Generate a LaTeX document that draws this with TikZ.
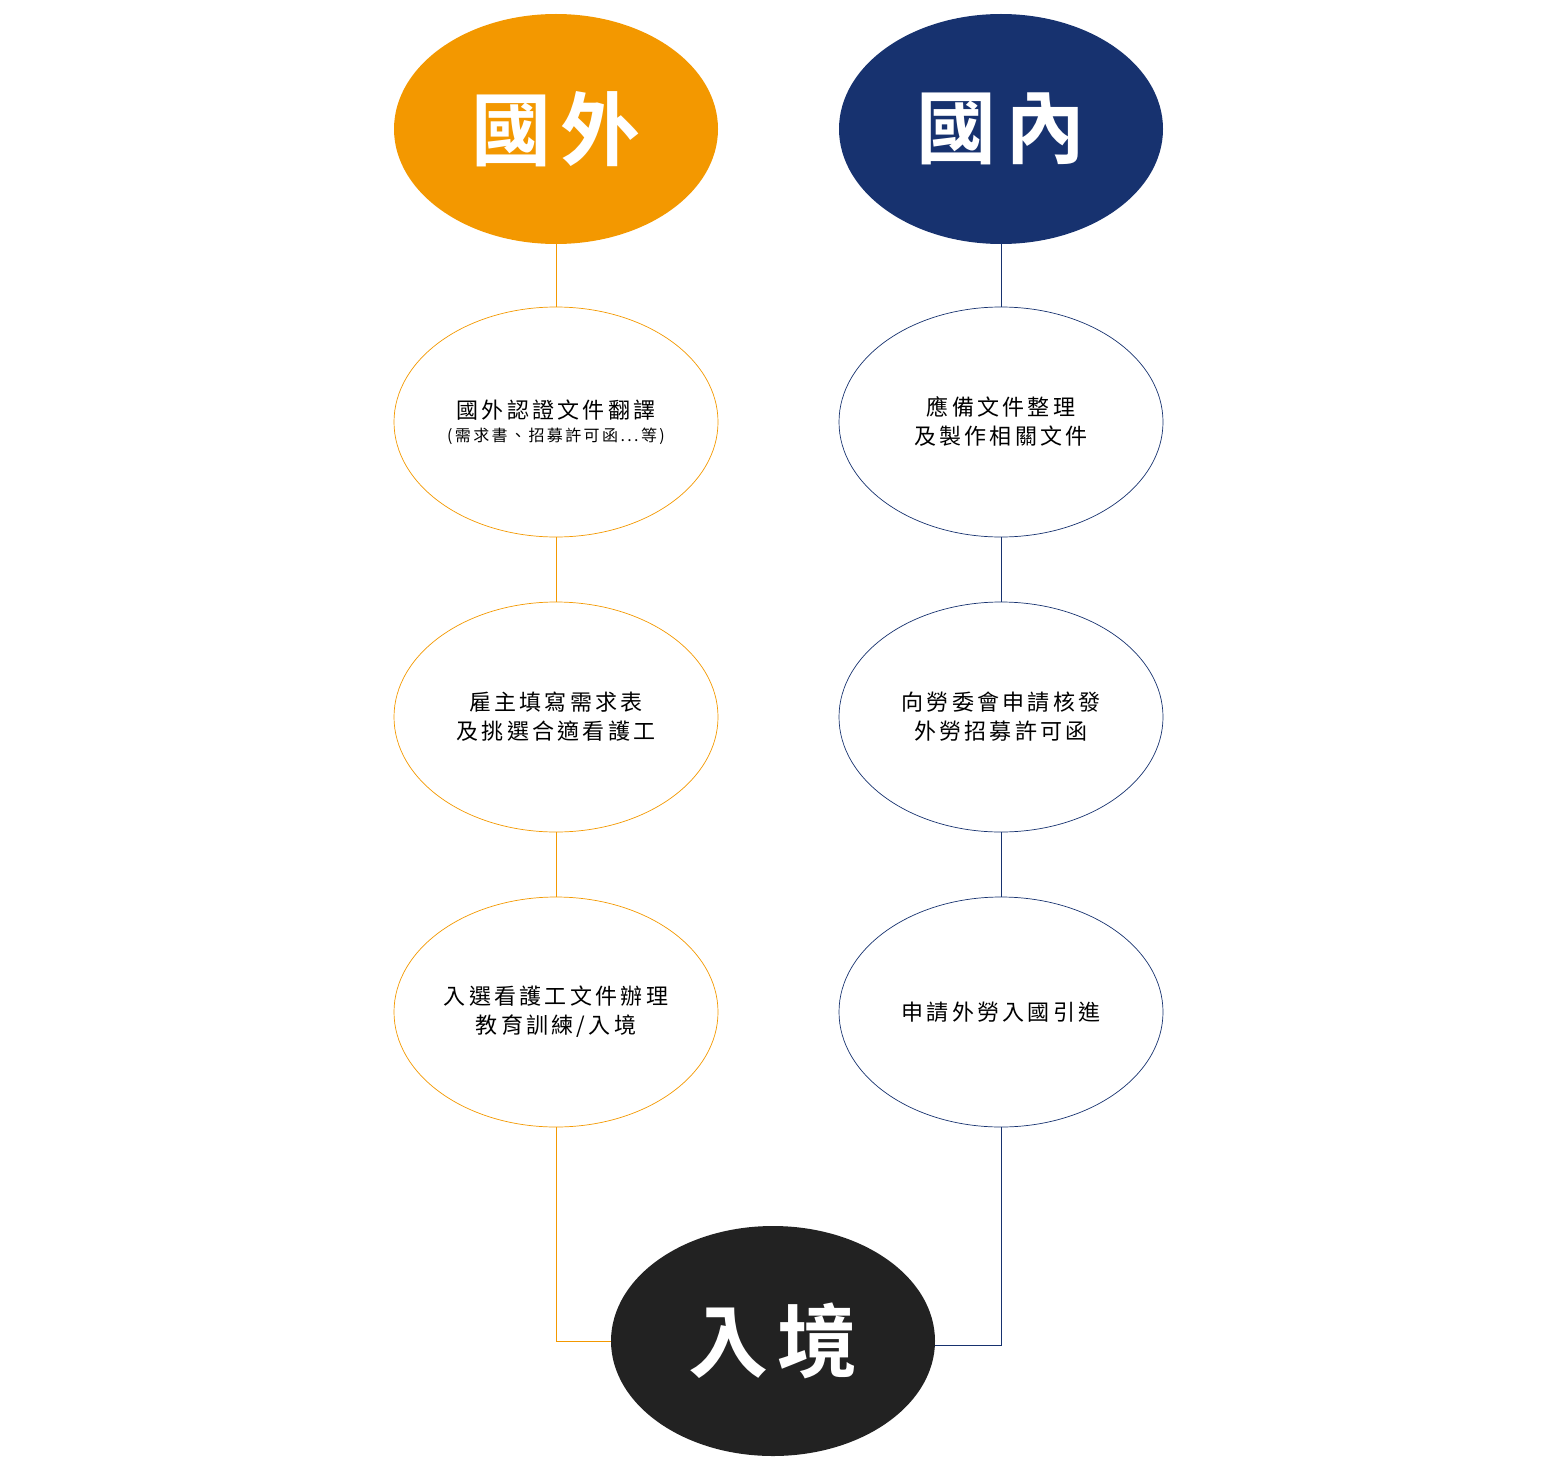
\documentclass[tikz,border=0pt]{standalone}
\usepackage{fontspec}
\usetikzlibrary{shapes.geometric}
\newfontfamily\cjk[LetterSpace=15]{Noto Sans CJK TC}
\newfontfamily\cjkb[LetterSpace=12,UprightFont=* Bold]{Noto Sans CJK TC}
\definecolor{org}{HTML}{F39800}
\definecolor{nav}{HTML}{17326F}
\definecolor{drk}{HTML}{222222}
\begin{document}
\begin{tikzpicture}[x=1pt,y=-1pt,
  big/.style={ellipse,minimum width=324pt,minimum height=230pt,inner sep=0pt,text=white,font=\cjkb\fontsize{80}{80}\selectfont},
  stp/.style={ellipse,minimum width=324pt,minimum height=230pt,inner sep=0pt,line width=0.7pt,align=center,font=\cjk\fontsize{22}{29}\selectfont}]
\useasboundingbox (0,0) rectangle (1557,1466);
\node[big,fill=org] (A) at (556,129) {國外};
\node[big,fill=nav] (B) at (1001,129) {國內};
\node[stp,draw=org] (A1) at (556,422) {國外認證文件翻譯\\[-6pt]{\fontsize{16}{18}\selectfont (需求書、招募許可函...等)}};
\node[stp,draw=org] (A2) at (556,717) {雇主填寫需求表\\及挑選合適看護工};
\node[stp,draw=org] (A3) at (556,1012) {入選看護工文件辦理\\教育訓練/入境};
\node[stp,draw=nav] (B1) at (1001,422) {應備文件整理\\及製作相關文件};
\node[stp,draw=nav] (B2) at (1001,717) {向勞委會申請核發\\外勞招募許可函};
\node[stp,draw=nav] (B3) at (1001,1012) {申請外勞入國引進};
\node[big,fill=drk] (C) at (773,1341) {入境};
\draw[org,line width=0.7pt] (A) -- (A1) (A1) -- (A2) (A2) -- (A3);
\draw[org,line width=0.7pt] (A3.south) |- (C.west);
\draw[nav,line width=0.7pt] (B) -- (B1) (B1) -- (B2) (B2) -- (B3);
\draw[nav,line width=0.7pt] (B3.south) |- ([yshift=-4pt]C.east);
\end{tikzpicture}
\end{document}
